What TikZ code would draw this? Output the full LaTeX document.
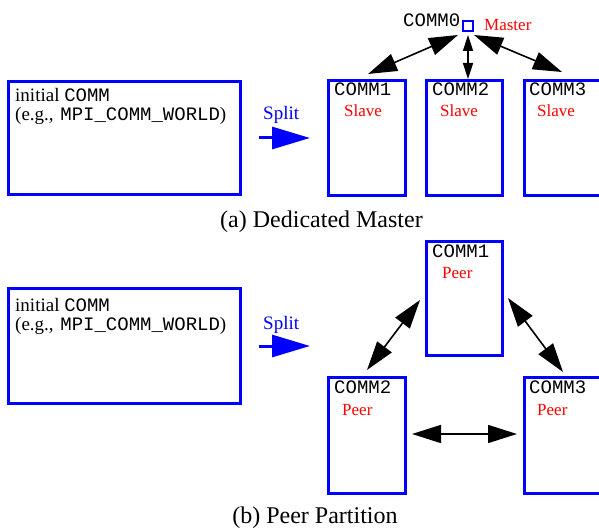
\documentclass[tikz,border=0pt]{standalone}
\usepackage{fontspec}
\setmainfont{Liberation Serif}
\setmonofont{Liberation Mono}
\usetikzlibrary{arrows.meta}
\begin{document}
\begin{tikzpicture}[x=1pt,y=-1pt,
  bluebox/.style={draw=blue,line width=3pt,rectangle,inner sep=0pt},
  lbl/.style={anchor=base west,inner sep=0pt,font=\fontsize{19}{22}\selectfont},
  redlbl/.style={anchor=base west,inner sep=0pt,text=red,font=\fontsize{17}{20}\selectfont},
  captext/.style={anchor=base,inner sep=0pt,font=\fontsize{24}{28}\selectfont},
  splitarrow/.style={draw=blue,line width=3pt,-{Triangle[length=38pt,width=22pt]}},
  bigdbl/.style={draw=black,line width=1.6pt,{Triangle[length=29pt,width=18pt]}-{Triangle[length=29pt,width=18pt]}},
  smalldbl/.style={draw=black,line width=1.6pt,{Triangle[length=16pt,width=10pt]}-{Triangle[length=16pt,width=10pt]}}
]
\useasboundingbox (0,0) rectangle (599,529);
\clip (0,0) rectangle (599,529);
% ---------- (a) ----------
\node[bluebox,minimum width=232pt,minimum height=113pt] (initA) at (124.5,138) {};
\node[lbl] (initAt1) at (15,102) {initial \texttt{COMM}};
\node[lbl] (initAt2) at (15,121) {(e.g.,\hspace{0.35em}\texttt{MPI\_COMM\_WORLD})};
\node[lbl,text=blue] (splitA) at (263,120) {Split};
\coordinate (sAs) at (259,138);
\coordinate (sAe) at (310,138);
\draw[splitarrow] (sAs) -- (sAe);

\node[bluebox,minimum width=10pt,minimum height=10pt,line width=2pt] (comm0) at (468,26) {};
\node[lbl] (comm0t) at (403,27) {\texttt{COMM0}};
\node[redlbl] (master) at (484,31) {Master};

\node[bluebox,minimum width=77pt,minimum height=115pt] (a1) at (367,138) {};
\node[bluebox,minimum width=76pt,minimum height=115pt] (a2) at (464,138) {};
\node[bluebox,minimum width=90pt,minimum height=115pt] (a3) at (569.5,138) {};
\node[lbl] (a1t) at (334,96) {\texttt{COMM1}};
\node[lbl] (a2t) at (432,96) {\texttt{COMM2}};
\node[lbl] (a3t) at (529,96) {\texttt{COMM3}};
\node[redlbl] (a1r) at (344,117) {Slave};
\node[redlbl] (a2r) at (440,117) {Slave};
\node[redlbl] (a3r) at (537,117) {Slave};

\coordinate (m1) at (458,35);
\coordinate (m2) at (468,35);
\coordinate (m3) at (474,35);
\coordinate (s1) at (368,74);
\coordinate (s2) at (468,79);
\coordinate (s3) at (562,72);
\draw[bigdbl] (m1) -- (s1);
\draw[smalldbl] (m2) -- (s2);
\draw[bigdbl] (m3) -- (s3);

\node[captext] (capA) at (321.5,228) {(a) Dedicated Master};

% ---------- (b) ----------
\node[bluebox,minimum width=232pt,minimum height=115pt] (initB) at (124.5,346) {};
\node[lbl] (initBt1) at (15,311) {initial \texttt{COMM}};
\node[lbl] (initBt2) at (15,330) {(e.g.,\hspace{0.35em}\texttt{MPI\_COMM\_WORLD})};
\node[lbl,text=blue] (splitB) at (263,329) {Split};
\coordinate (sBs) at (259,346);
\coordinate (sBe) at (310,346);
\draw[splitarrow] (sBs) -- (sBe);

\node[bluebox,minimum width=76pt,minimum height=114pt] (b1) at (464.5,298.5) {};
\node[bluebox,minimum width=77pt,minimum height=116pt] (b2) at (367,435.5) {};
\node[bluebox,minimum width=90pt,minimum height=116pt] (b3) at (569.5,435.5) {};
\node[lbl] (b1t) at (432,257) {\texttt{COMM1}};
\node[redlbl] (b1r) at (442,278) {Peer};
\node[lbl] (b2t) at (334,393) {\texttt{COMM2}};
\node[redlbl] (b2r) at (342,415) {Peer};
\node[lbl] (b3t) at (529,393) {\texttt{COMM3}};
\node[redlbl] (b3r) at (537,415) {Peer};

\coordinate (p21) at (367,370);
\coordinate (p12) at (420,300);
\coordinate (p13) at (508,298);
\coordinate (p31) at (563,372);
\coordinate (p23) at (412,434);
\coordinate (p32) at (517,434);
\draw[bigdbl] (p21) -- (p12);
\draw[bigdbl] (p13) -- (p31);
\draw[bigdbl] (p23) -- (p32);

\node[captext] (capB) at (315,523) {(b) Peer Partition};
\end{tikzpicture}
\end{document}
